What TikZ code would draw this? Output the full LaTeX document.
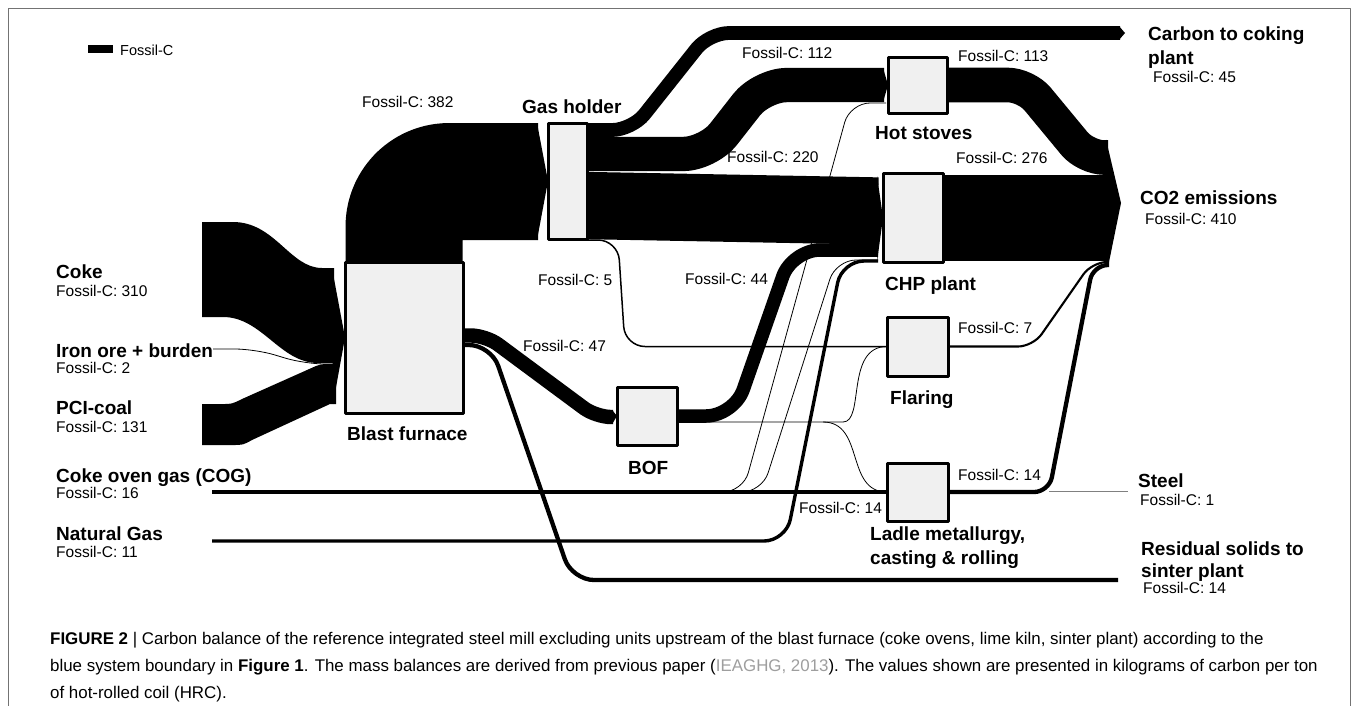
\documentclass[tikz,border=0pt]{standalone}
\usepackage{fontspec}
\setmainfont{Liberation Sans}
\usetikzlibrary{positioning}
\definecolor{boxgray}{gray}{0.94}
\definecolor{framegray}{gray}{0.45}
\definecolor{linkgray}{gray}{0.62}

\begin{document}
\begin{tikzpicture}[x=1pt,y=-1pt,line join=round]
	
	\tikzstyle{unit}=[inner sep=0pt,outer sep=0pt]
	\tikzstyle{flow}=[draw=black,line cap=butt,rounded corners=20pt]
	\tikzstyle{wire}=[draw=black,line width=0.8pt,rounded corners=20pt]
	\tikzstyle{title}=[anchor=base west,inner sep=0pt,font=\fontsize{19}{23}\selectfont\bfseries]
	\tikzstyle{val}=[anchor=base west,inner sep=0pt,font=\fontsize{15.5}{18}\selectfont]
	\tikzstyle{capt}=[anchor=base west,inner sep=0pt,font=\fontsize{16.9}{20}\selectfont]
	
	\useasboundingbox (0,0) rectangle (1356,705);
	\draw[framegray,line width=1pt] (8,720) -- (8,8) -- (1350,8) -- (1350,720);
	
	% units
	\node[unit,minimum width=118pt,minimum height=151pt] (bf) at (404,337.5) {};
	\node[unit,minimum width=39pt,minimum height=116pt] (gh) at (567.5,181) {};
	\node[unit,minimum width=59pt,minimum height=56pt] (hs) at (917.5,85) {};
	\node[unit,minimum width=60pt,minimum height=89pt] (chp) at (913,217.5) {};
	\node[unit,minimum width=61pt,minimum height=59pt] (fl) at (917.5,346.5) {};
	\node[unit,minimum width=60pt,minimum height=58pt] (bof) at (647,416) {};
	\node[unit,minimum width=61pt,minimum height=58pt] (lad) at (917.5,492) {};
	
	% sources and sinks
	\coordinate (coke) at (202,222);
	\coordinate (ore) at (213,349);
	\coordinate (pci) at (202,404);
	\coordinate (cog) at (212,492);
	\coordinate (ng) at (212,541);
	\coordinate (cokplant) at (1125,33);
	\coordinate (co2) at (1121,203);
	\coordinate (steel) at (1128,491.5);
	\coordinate (sinter) at (1118,580);
	
	% flows into blast furnace
	\fill (coke) -- (233,222) .. controls (275,222) and (290,268) .. (322,268) -- (334,268)
		-- (334,363) -- (318,363) .. controls (280,363) and (262,317) .. (223,317) -- (202,317) -- cycle;
	\draw[wire] (ore) -- (255,349) -- (305,364) -- (334,364);
	\fill (pci) -- (222,404) .. controls (232,404) .. (242,399) -- (316,366) .. controls (322,364) .. (336,364)
		-- (336,404) -- (330,404) -- (252,440) .. controls (243,445) .. (232,445) -- (202,445) -- cycle;
	\fill (332,268) -- (bf.west) -- (333,404) -- cycle;
	
	% blast furnace to gas holder
	\draw[flow,line width=117pt,rounded corners=45pt] (404,264) -- (404,181.5) -- (538,181.5);
	\fill (537,123) -- (gh.west) -- (537,240) -- cycle;
	
	% gas holder outputs
	\draw[flow,line width=13.8pt] (586,130) -- (632,130) -- (709,33) -- (1120,33);
	\fill (1119,26.1) -- (cokplant) -- (1119,39.9) -- cycle;
	\draw[flow,line width=34.3pt,rounded corners=25pt] (586,154) -- (708,154) -- (762,85) -- (884,85);
	\fill (883,67.8) -- (hs.west) -- (883,102.2) -- cycle;
	\draw[flow,line width=67.3pt] (586,205.5) -- (878,211);
	\draw[wire,line width=1.5pt] (586,240) -- (618,240) -- (625,346.5) -- (fl.west);
	
	% blast furnace to BOF and sinter plant
	\draw[flow,line width=14.4pt,rounded corners=15pt] (462,335.5) -- (486,335.5) -- (596,417) -- (613,417);
	\fill (612,409.8) -- (bof.west) -- (612,424.2) -- cycle;
	\draw[wire,line width=4.3pt,rounded corners=22pt] (462,345) -- (491,345) -- (572,580) -- (sinter);
	
	% BOF outputs
	\draw[flow,line width=13.5pt,rounded corners=28pt] (bof.east) -- (734,416) -- (792,250) -- (878,250);
	\draw[wire] (677,422) -- (823,422) .. controls (865,422) and (845,346.5) .. (fl.west);
	\draw[wire] (823,422) .. controls (865,422) and (845,492) .. (lad.west);
	
	% gas inputs
	\draw[wire,line width=4.6pt] (cog) -- (lad.west);
	\draw[wire] (700,492) -- (743,492) -- (850,103) -- (886,103);
	\draw[wire] (720,492) -- (762,492) -- (836,260) -- (878,260);
	\draw[wire,line width=3.4pt,rounded corners=22pt] (ng) -- (786,541) -- (842,261) -- (878,261);
	\fill (877,176) -- (chp.west) -- (877,262) -- cycle;
	
	% to CO2 emissions
	\draw[flow,line width=34.6pt,rounded corners=18pt] (hs.east) -- (1026,85) -- (1086,157.5) -- (1108,157.5);
	\draw[flow,line width=86pt] (chp.east) -- (1109,217.5);
	\draw[wire,line width=2.1pt,rounded corners=15pt] (fl.east) -- (1033,346.5) -- (1092,262) -- (1109,262);
	\draw[wire,line width=4.3pt,rounded corners=15pt] (lad.east) -- (1049,492) -- (1093,265) -- (1109,265);
	\fill (1106,139.5) -- (co2) -- (1108,267) -- cycle;
	\draw[wire,draw=gray,line width=0.8pt] (1049,491.5) -- (steel);
	
	% boxes on top
	\foreach \u in {bf,gh,hs,chp,fl,bof,lad}
		\draw[line width=3pt,fill=boxgray] (\u.south west) rectangle (\u.north east);
	
	% legend
	\fill (88,45) rectangle (113,53);
	\node[val,font=\fontsize{14.5}{17}\selectfont] (leg) at (120,55) {Fossil-C};
	
	% unit names
	\node[title] (bfname) at (347,440) {Blast furnace};
	\node[title] (ghname) at (522,113) {Gas holder};
	\node[title] (hsname) at (875,139) {Hot stoves};
	\node[title] (chpname) at (885,290) {CHP plant};
	\node[title] (flname) at (890,404) {Flaring};
	\node[title] (bofname) at (628,474) {BOF};
	\node[title] (ladname1) at (870,540) {Ladle metallurgy,};
	\node[title] (ladname2) at (870,564) {casting \& rolling};
	
	% sources and sinks
	\node[title] (cokename) at (56,278) {Coke};
	\node[val] (cokeval) at (56,296) {Fossil-C: 310};
	\node[title] (orename) at (56,357) {Iron ore + burden};
	\node[val] (oreval) at (56,373) {Fossil-C: 2};
	\node[title] (pciname) at (56,414) {PCI-coal};
	\node[val] (pcival) at (56,432) {Fossil-C: 131};
	\node[title] (cogname) at (56,482) {Coke oven gas (COG)};
	\node[val] (cogval) at (56,498) {Fossil-C: 16};
	\node[title] (ngname) at (56,540) {Natural Gas};
	\node[val] (ngval) at (56,557) {Fossil-C: 11};
	\node[title] (cpname1) at (1148,40) {Carbon to coking};
	\node[title] (cpname2) at (1148,64) {plant};
	\node[val] (cpval) at (1153,82) {Fossil-C: 45};
	\node[title] (co2name) at (1140,204) {CO2 emissions};
	\node[val] (co2val) at (1145,224) {Fossil-C: 410};
	\node[title] (steelname) at (1138,487) {Steel};
	\node[val] (steelval) at (1140,505) {Fossil-C: 1};
	\node[title] (sintname1) at (1141,555) {Residual solids to};
	\node[title] (sintname2) at (1141,577) {sinter plant};
	\node[val] (sintval) at (1143,593) {Fossil-C: 14};
	
	% flow values
	\node[val] (v382) at (362,107.5) {Fossil-C: 382};
	\node[val] (v112) at (742,58.5) {Fossil-C: 112};
	\node[val] (v220) at (727,162.5) {Fossil-C: 220};
	\node[val] (v113) at (958,61.5) {Fossil-C: 113};
	\node[val] (v276) at (956,163.5) {Fossil-C: 276};
	\node[val] (v5) at (538,285.5) {Fossil-C: 5};
	\node[val] (v44) at (685,284.5) {Fossil-C: 44};
	\node[val] (v47) at (523,351.5) {Fossil-C: 47};
	\node[val] (v7) at (958,333.5) {Fossil-C: 7};
	\node[val] (v14a) at (958,480.5) {Fossil-C: 14};
	\node[val] (v14b) at (799,513.5) {Fossil-C: 14};
	
	% caption
	\node[capt] (cap1) at (50,644) {\textbf{FIGURE 2} | Carbon balance of the reference integrated steel mill excluding units upstream of the blast furnace (coke ovens, lime kiln, sinter plant) according to the};
	\node[capt] (cap2) at (50,671) {blue system boundary in \textbf{Figure 1}. The mass balances are derived from previous paper ({\color{linkgray}IEAGHG, 2013}). The values shown are presented in kilograms of carbon per ton};
	\node[capt] (cap3) at (50,698) {of hot-rolled coil (HRC).};
	
\end{tikzpicture}
\end{document}
